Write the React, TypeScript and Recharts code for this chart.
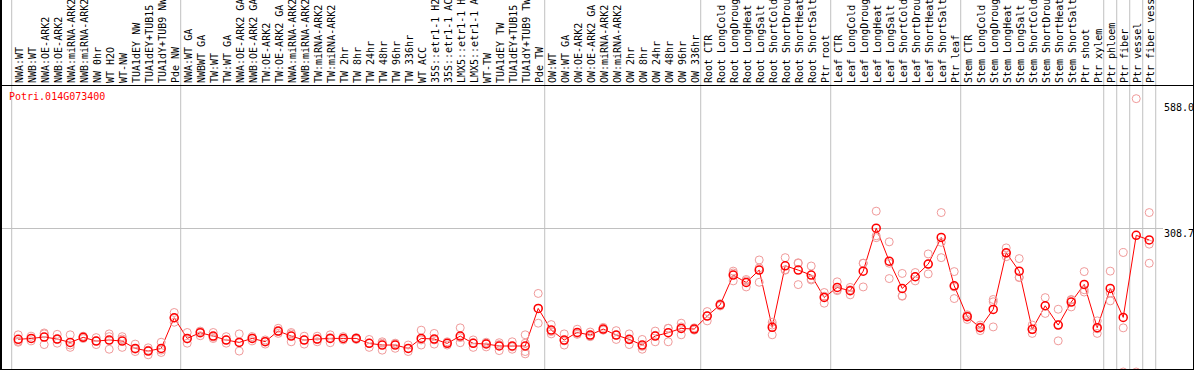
import * as React from 'react';
import { ComposedChart, Line, Scatter, XAxis, YAxis, ReferenceLine } from 'recharts';

const geneId = 'Potri.014G073400';

const nwSamples = [
    'NWA:WT', 'NWB:WT', 'NWA:OE-ARK2', 'NWB:OE-ARK2', 'NWA:miRNA-ARK2', 'NWB:miRNA-ARK2',
    'NW 0hr', 'WT H2O', 'WT-NW', 'TUA1dEY NW', 'TUA1dEY+TUB15 NW', 'TUA1dY+TUB9 NW', 'Pde NW',
];
const twSamples = [
    'NWA:WT GA', 'NWBWT GA', 'TW:WT', 'TW:WT GA', 'NWA:OE-ARK2 GA', 'NWB:OE-ARK2 GA',
    'TW:OE-ARK2', 'TW:OE-ARK2 GA', 'NWA:miRNA-ARK2 GA', 'NWB:miRNA-ARK2 GA', 'TW:miRNA-ARK2',
    'TW:miRNA-ARK2 GA', 'TW 2hr', 'TW 8hr', 'TW 24hr', 'TW 48hr', 'TW 96hr', 'TW 336hr', 'WT ACC',
    '35S::etr1-1 H2O', '35S::etr1-1 ACC', 'LMX5::etr1-1 H2O', 'LMX5::etr1-1 ACC', 'WT-TW',
    'TUA1dEY TW', 'TUA1dEY+TUB15 TW', 'TUA1dY+TUB9 TW', 'Pde TW',
];
const owSamples = [
    'OW:WT', 'OW:WT GA', 'OW:OE-ARK2', 'OW:OE-ARK2 GA', 'OW:miRNA-ARK2', 'OW:miRNA-ARK2 GA',
    'OW 2hr', 'OW 8hr', 'OW 24hr', 'OW 48hr', 'OW 96hr', 'OW 336hr',
];
const rootSamples = [
    'Root CTR', 'Root LongCold', 'Root LongDrought', 'Root LongHeat', 'Root LongSalt',
    'Root ShortCold', 'Root ShortDrought', 'Root ShortHeat', 'Root ShortSalt', 'Ptr root',
];
const leafSamples = [
    'Leaf CTR', 'Leaf LongCold', 'Leaf LongDrought', 'Leaf LongHeat', 'Leaf LongSalt',
    'Leaf ShortCold', 'Leaf ShortDrought', 'Leaf ShortHeat', 'Leaf ShortSalt', 'Ptr leaf',
];
const stemSamples = [
    'Stem CTR', 'Stem LongCold', 'Stem LongDrought', 'Stem LongHeat', 'Stem LongSalt',
    'Stem ShortCold', 'Stem ShortDrought', 'Stem ShortHeat', 'Stem ShortSalt', 'Ptr shoot', 'Ptr xylem',
];
const phloemSamples = ['Ptr phloem'];
const fiberSamples = ['Ptr fiber'];
const vesselSamples = ['Ptr vessel'];
const fiberVesselSamples = ['Ptr fiber vessel'];

const sampleGroups = [
    nwSamples, twSamples, owSamples, rootSamples, leafSamples, stemSamples,
    phloemSamples, fiberSamples, vesselSamples, fiberVesselSamples,
];

// mean expression per sample
const means = [
    70.2, 72.3, 75.2, 70.9, 63.7, 74.5, 66.6, 68.8, 66.6, 50.8, 45.1, 50.8, 116.7,
    72.3, 84.5, 77.3, 68.8, 63.7, 72.3, 65.2, 88.1, 77.3, 68.8, 70.9, 72.3, 72.3, 72.3, 61.6,
    58.0, 58.0, 50.8, 72.3, 70.9, 61.6, 77.3, 61.6, 60.2, 55.9, 55.9, 55.9, 136.8,
    90.2, 68.8, 85.2, 79.5, 92.4, 79.5, 70.2, 58.0, 77.4, 84.5, 93.8, 92.4,
    120.3, 144.7, 208.4, 192.7, 219.2, 96.0, 228.5, 219.2, 208.4, 160.4,
    181.9, 174.8, 217.0, 309.4, 238.5, 179.8, 204.9, 232.1, 289.4, 185.5,
    118.9, 95.3, 134.7, 256.4, 217.0, 91.7, 142.5, 101.0, 150.4, 188.4, 95.3,
    179.8, 117.5, 294.0, 284.0,
];

// individual replicates per sample
const replicates = [
    [80, 66, 64], [77, 72, 67], [84, 82, 59], [81, 70, 62], [80, 58, 53], [77, 75, 72],
    [74, 67, 59], [82, 76, 49], [76, 71, 53], [60, 49, 44], [52, 47, 37], [64, 47, 42],
    [128, 116, 107],
    [85, 71, 62], [88, 87, 78], [85, 75, 72], [76, 69, 62], [82, 64, 45], [76, 73, 67],
    [69, 66, 60], [94, 87, 83], [85, 82, 65], [77, 69, 60], [77, 70, 65], [80, 74, 63],
    [76, 72, 69], [74, 73, 70], [70, 62, 53], [65, 62, 47], [62, 61, 51], [58, 51, 44],
    [90, 69, 58], [83, 69, 60], [65, 62, 58], [95, 74, 63], [69, 63, 53], [62, 64, 54],
    [63, 59, 46], [65, 54, 49], [80, 62, 44, 39], [169, 137, 105],
    [102, 87, 82], [82, 67, 58], [92, 83, 81], [86, 77, 76], [96, 91, 90], [89, 79, 70],
    [82, 69, 59], [70, 55, 49], [88, 79, 65], [94, 94, 65], [105, 97, 80], [95, 92, 90],
    [130, 121, 110], [147, 144, 142], [217, 213, 196], [199, 196, 183], [241, 224, 193],
    [107, 101, 80], [246, 220, 219], [235, 234, 188], [228, 200, 198], [171, 163, 148],
    [194, 177, 175], [182, 177, 166], [234, 234, 183], [346, 293, 289], [280, 234, 201],
    [212, 164, 163], [214, 205, 196], [254, 232, 211], [343, 279, 246], [216, 183, 158],
    [123, 121, 113], [101, 97, 89], [156, 151, 97], [267, 255, 248], [244, 204, 203],
    [101, 91, 83], [160, 142, 126], [135, 102, 67], [156, 155, 140], [216, 177, 172],
    [110, 93, 83],
    [217, 170, 153], [257, 95, 0], [588, 0], [343, 275, 234],
];

const yTicks = [0, 308.7, 588];
const yMax = 617.4;

const samples = sampleGroups.flat();
const boundaries = sampleGroups.reduce((acc, g) => [...acc, acc[acc.length - 1] + g.length], [0]);
const meanData = samples.map((name, i) => ({ x: i + 0.5, name, v: means[i] }));
const repData = replicates.flatMap((reps, i) => reps.map((v) => ({ x: i + 0.5, v })));

const FONT = '"DejaVu Sans Mono", monospace';
const GRID = '#c0c0c0';

const SampleTick = (props: any) => {
    const { x, payload } = props;
    const v = payload.value;
    if (Number.isInteger(v)) {
        return <line x1={x} x2={x} y1={0} y2={85} stroke={GRID} />;
    }
    return (
        <text transform={`translate(${x + 4.5},83) rotate(-90)`} fontFamily={FONT} fontSize={10} fill="#000">
            {samples[Math.floor(v)]}
        </text>
    );
};

const labelShift: Record<string, number> = { '0': -6, '308.7': 8, '588': 12 };

const ValueTick = (props: any) => {
    const { x, y, payload } = props;
    const v = payload.value;
    return (
        <text x={x} y={y + (labelShift[String(v)] || 0)} fontFamily={FONT} fontSize={10} fill="#000">
            {v === 0 ? '0' : v.toFixed(1)}
        </text>
    );
};

const RepDot = (props: any) => (
    <circle cx={props.cx} cy={props.cy} r={4} fill="none" stroke="#f09a9a" strokeWidth={1} />
);

const MeanDot = (props: any) => (
    <circle key={props.key ?? props.index} cx={props.cx} cy={props.cy} r={4} fill="none" stroke="#ff0000" strokeWidth={1.5} />
);

export default function App() {
    return (
        <div style={{ position: 'absolute', left: 0, top: 0, width: 1194, height: 370, overflow: 'hidden', background: '#fff' }}>
            <ComposedChart width={1194} height={372} margin={{ top: 0, right: 0, bottom: 0, left: 0 }}>
                <XAxis
                    dataKey="x"
                    type="number"
                    orientation="top"
                    domain={[-0.9, 88.56]}
                    ticks={[...boundaries, ...meanData.map((d) => d.x)]}
                    interval={0}
                    height={85}
                    axisLine={false}
                    tickLine={false}
                    tick={(p: any) => <SampleTick {...p} />}
                />
                <YAxis
                    orientation="right"
                    width={31}
                    domain={[0, yMax]}
                    ticks={yTicks}
                    axisLine={false}
                    tickLine={false}
                    tickSize={0}
                    tickMargin={1}
                    tick={(p: any) => <ValueTick {...p} />}
                />
                {boundaries.map((b) => (
                    <ReferenceLine key={b} x={b} stroke={GRID} ifOverflow="visible" />
                ))}
                <ReferenceLine y={yTicks[1]} stroke={GRID} />
                <Scatter data={repData} dataKey="v" shape={RepDot} isAnimationActive={false} />
                <Line
                    data={meanData}
                    dataKey="v"
                    stroke="#ff0000"
                    strokeWidth={1}
                    dot={MeanDot}
                    activeDot={false}
                    isAnimationActive={false}
                />
            </ComposedChart>
            <div style={{ position: 'absolute', left: 9, top: 92, fontFamily: FONT, fontSize: 10, lineHeight: '10px', color: '#ff0000' }}>
                {geneId}
            </div>
            <div style={{ position: 'absolute', left: 0, top: 85, width: 1194, height: 1, background: '#000' }} />
            <div
                style={{
                    position: 'absolute', left: 0, top: 0, width: 1194, height: 370, boxSizing: 'border-box',
                    borderLeft: '2px solid #000', borderRight: '1px solid #000', borderBottom: '1px solid #000',
                    pointerEvents: 'none',
                }}
            />
        </div>
    );
}
